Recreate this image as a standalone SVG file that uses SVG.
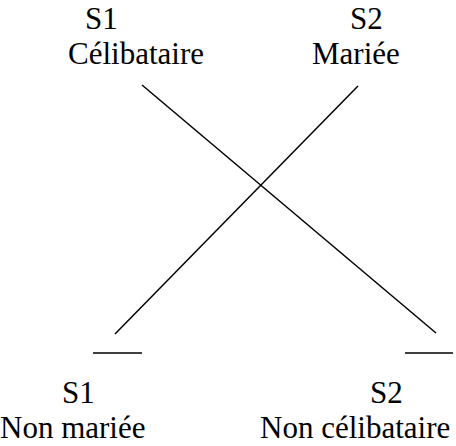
<svg xmlns="http://www.w3.org/2000/svg" width="456" height="446" viewBox="0 0 456 446">
<style>
line{stroke:#000;stroke-width:1.5}
</style>
<rect width="456" height="446" fill="#fff"/>
<g id="top-left" font-family="Times New Roman, Liberation Serif, serif" font-size="31"><text x="85" y="29">S1</text><text x="68" y="64">Célibataire</text></g>
<g id="top-right" font-family="Times New Roman, Liberation Serif, serif" font-size="31"><text x="350" y="29">S2</text><text x="312" y="64">Mariée</text></g>
<g id="bottom-left" font-family="Times New Roman, Liberation Serif, serif" font-size="31"><line x1="93" y1="353" x2="142" y2="353"/><text x="62" y="403">S1</text><text x="0" y="438">Non mariée</text></g>
<g id="bottom-right" font-family="Times New Roman, Liberation Serif, serif" font-size="31"><line x1="405" y1="353" x2="453" y2="353"/><text x="370" y="403">S2</text><text x="260" y="438">Non célibataire</text></g>
<g id="connectors"><line x1="142" y1="85" x2="436" y2="333"/><line x1="358" y1="86" x2="115" y2="334"/></g>
</svg>
